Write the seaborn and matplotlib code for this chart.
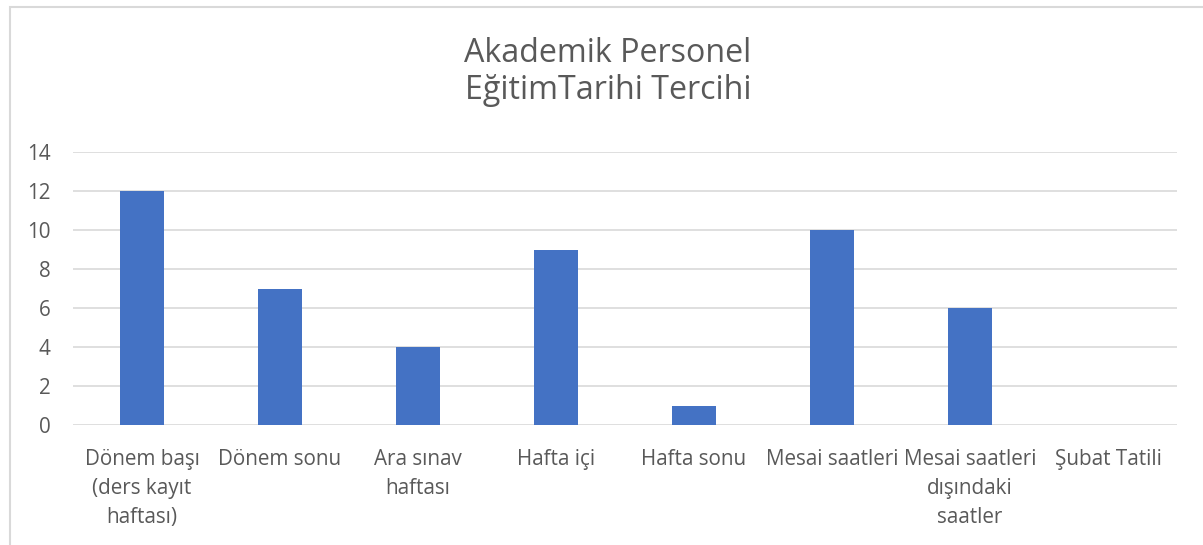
import matplotlib
matplotlib.use("Agg")
import matplotlib.pyplot as plt
import seaborn as sns
import pandas as pd
from matplotlib.patches import Rectangle

categories = ["Dönem başı\n(ders kayıt\nhaftası)", "Dönem sonu", "Ara sınav\nhaftası",
              "Hafta içi", "Hafta sonu", "Mesai saatleri", "Mesai saatleri\ndışındaki\nsaatler",
              "Şubat Tatili"]
values = [12, 7, 4, 9, 1, 10, 6, 0]
yticks = [0, 2, 4, 6, 8, 10, 12, 14]
title = "Akademik Personel\nEğitimTarihi Tercihi"

sns.set_theme(style="white")
plt.rcParams['font.family'] = ['Open Sans', 'DejaVu Sans']

df = pd.DataFrame({"cat": categories, "val": values})

fig = plt.figure(figsize=(12.03, 5.45), dpi=100)
ax = fig.add_axes([73/1203, 1-425/545, (1177-73)/1203, (425-152)/545])

sns.barplot(data=df, x="cat", y="val", ax=ax, color="#4472C4", width=0.32,
            saturation=1, linewidth=0, zorder=3)

ax.set_ylim(0, 14)
ax.set_yticks(yticks)
ax.set_xlim(-0.5, len(categories) - 0.5)
ax.grid(axis="y", color="#D9D9D9", linewidth=1.2, zorder=0)
ax.set_axisbelow(True)
for s in ax.spines.values():
    s.set_visible(False)
ax.set_xlabel("")
ax.set_ylabel("")
ax.tick_params(axis="both", length=0, colors="#595959", labelsize=14.9)
ax.tick_params(axis="y", pad=16)
ax.tick_params(axis="x", pad=17)
for lab in ax.get_xticklabels():
    lab.set_linespacing(1.5)
    lab.set_ha("center")

fig.text(608/1203, 1-72/545, title, ha="center", va="center", fontsize=23.2,
         color="#595959", linespacing=1.15)

fig.patches.append(Rectangle((10/1203, -0.1), 1.2, (545-7)/545 + 0.1,
                             transform=fig.transFigure, fill=False,
                             edgecolor="#D9D9D9", linewidth=1.5))

fig.savefig("out.png", dpi=100)
